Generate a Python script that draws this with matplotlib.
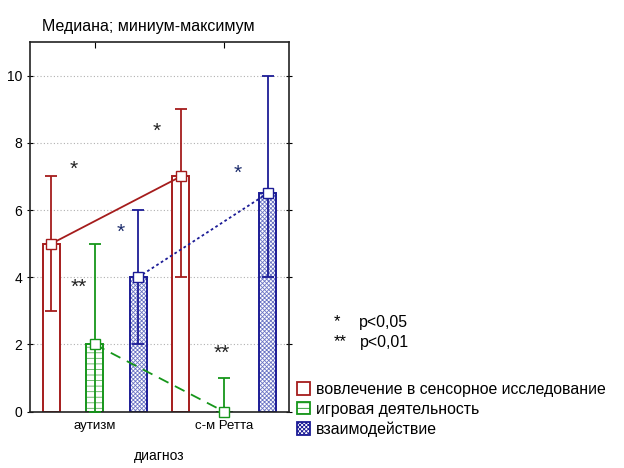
import numpy as np
import matplotlib
matplotlib.use('Agg')
import matplotlib.pyplot as plt
from matplotlib.patches import Patch

plt.rcParams['font.family'] = ['Liberation Sans', 'DejaVu Sans']
plt.rcParams['hatch.linewidth'] = 0.6

categories = ['аутизм', 'с-м Ретта']
series = ['вовлечение в сенсорное исследование', 'игровая деятельность', 'взаимодействие']

# median, min, max per series (аутизм, с-м Ретта)
median_sens = [5, 7]
min_sens = [3, 4]
max_sens = [7, 9]

median_play = [2, 0]
min_play = [0, 0]
max_play = [5, 1]

median_inter = [4, 6.5]
min_inter = [2, 4]
max_inter = [6, 10]

# significance marks: (x, y, text, colour key)
sig_marks = [
    (-0.16, 7.3, '*', 'k'),
    (0.48, 8.45, '*', 'k'),
    (0.20, 5.45, '*', 'b'),
    (1.105, 7.2, '*', 'b'),
    (-0.12, 3.8, '**', 'k'),
    (0.98, 1.85, '**', 'k'),
]

red = '#a51c1c'
green = '#16961a'
blue = '#1c1c96'
colors = [red, green, blue]
hatch_colors = [red, '#5cb05c', '#6a74c4']
hatches = [None, '---', 'xxxxxxxx']
line_styles = ['-', (0, (6, 4)), (0, (1.5, 1.5))]
offsets = [-0.335, 0.0, 0.335]
width = 0.13

medians = [median_sens, median_play, median_inter]
mins = [min_sens, min_play, min_inter]
maxs = [max_sens, max_play, max_inter]

fig = plt.figure(figsize=(6.24, 4.68), dpi=100)
ax = fig.add_axes([30 / 624, 1 - 411.7 / 468, 259 / 624, 369.7 / 468])

x = np.arange(len(categories))
for i in range(3):
    xs = x + offsets[i]
    med = np.array(medians[i], dtype=float)
    lo = med - np.array(mins[i])
    hi = np.array(maxs[i]) - med
    # hatch layer (hatch colour comes from edgecolor), then the outline
    ax.bar(xs, med, width=width, facecolor='white', edgecolor=hatch_colors[i],
           hatch=hatches[i], linewidth=0, zorder=2)
    ax.bar(xs, med, width=width, facecolor='none', edgecolor=colors[i],
           linewidth=1.4, zorder=2)
    ax.errorbar(xs, med, yerr=[lo, hi], fmt='none', ecolor=colors[i],
                elinewidth=1.3, capsize=4.5, capthick=1.3, zorder=3)
    ax.plot(xs, med, color=colors[i], linestyle=line_styles[i], linewidth=1.3,
            marker='s', markersize=6.5, markerfacecolor='white',
            markeredgecolor=colors[i], markeredgewidth=1.0, zorder=4, clip_on=False)

for sx, sy, txt, ck in sig_marks:
    c = '#222222' if ck == 'k' else '#1c2c6c'
    ax.text(sx, sy - 0.1, txt, ha='center', va='center', fontsize=15, color=c, zorder=5)

ax.set_xlim(-0.5, 1.5)
ax.set_ylim(0, 11)
ax.set_yticks([0, 2, 4, 6, 8, 10])
ax.set_xticks(x)
ax.set_xticklabels(categories, fontsize=9.5)
ax.tick_params(axis='y', labelsize=10, direction='inout', right=True, length=4)
ax.tick_params(axis='x', direction='in', top=True, length=4, pad=6)
ax.yaxis.grid(True, linestyle=(0, (1, 2)), color='#b0b0b0', linewidth=0.8)
ax.set_axisbelow(True)
for sp in ax.spines.values():
    sp.set_linewidth(1.2)
    sp.set_color('#222222')
ax.set_xlabel('диагноз', fontsize=10, labelpad=12)

fig.text(42 / 624, 1 - 26 / 468, 'Медиана; миниум-максимум', fontsize=11.5,
         ha='left', va='center')

# p-value notes
fig.text(334 / 624, 1 - 322 / 468, '*', fontsize=12, ha='left', va='center')
fig.text(359 / 624, 1 - 323 / 468, 'p<0,05', fontsize=11.4, ha='left', va='center')
fig.text(334 / 624, 1 - 342 / 468, '**', fontsize=12, ha='left', va='center')
fig.text(360 / 624, 1 - 343 / 468, 'p<0,01', fontsize=11.4, ha='left', va='center')

handles = [Patch(facecolor='white', edgecolor=colors[i], hatch=hatches[i], linewidth=1.3)
           for i in range(3)]
fig.legend(handles, series, loc='upper left', bbox_to_anchor=(297 / 624, 1 - 382 / 468),
           frameon=False, fontsize=11.4, handlelength=0.8, handleheight=0.8,
           handletextpad=0.4, labelspacing=0.3, borderpad=0, borderaxespad=0)

fig.savefig('out.png', dpi=100)
